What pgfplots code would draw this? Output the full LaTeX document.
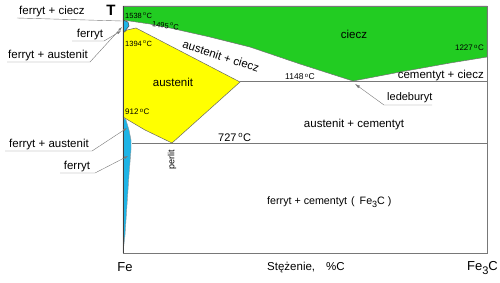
\documentclass[border=0pt]{standalone}
\usepackage{pgfplots}
\pgfplotsset{compat=1.18}
\usepackage{fontspec}
\setmainfont{Liberation Sans}
\usetikzlibrary{arrows.meta}
\definecolor{liq}{RGB}{34,204,34}
\definecolor{aus}{RGB}{255,255,0}
\definecolor{fer}{RGB}{30,180,230}
\definecolor{ln}{RGB}{120,120,120}
\newcommand{\fs}[1]{\fontsize{#1}{#1}\selectfont}
\newcommand{\dc}{\textsuperscript{o}C}
\begin{document}
\begin{tikzpicture}
\begin{axis}[scale only axis, width=500pt, height=282pt,
  xmin=0, xmax=500, ymin=0, ymax=282, y dir=reverse, hide axis, clip=false]
% liquid
\addplot[fill=liq, draw=black!55, line width=0.5pt] coordinates {(123,6)(487,6)(487,57)(450,63)(400,72)(353,81)(300,64)(250,47)(210,37)(170,28)(150,24)(123,20)} -- cycle;
% austenite
\addplot[fill=aus, draw=black!60, line width=0.5pt] coordinates {(123,33)(127,30)(136,28)(240,82)(172,143)(145,130)(123,117)} -- cycle;
% delta ferrite
\addplot[fill=fer, draw=black!70, line width=0.5pt] coordinates {(123,20)(128,22)(129,26)(125,31)(123,32)} -- cycle;
% alpha ferrite
\addplot[fill=fer, draw=black!40, line width=0.4pt] coordinates {(123,117)(126,120)(129,130)(131,140)(131,150)(129,175)(127,205)(125,235)(123,253)} -- cycle;
% frame lines
\addplot[ln, line width=0.6pt] coordinates {(123,6)(487,6)(487,253)(123,253)};
\addplot[black!75, line width=0.6pt] coordinates {(123,6)(123,253)};
\addplot[ln, line width=0.5pt] coordinates {(240,81)(487,81)};
\addplot[ln, line width=0.5pt] coordinates {(132,143)(487,143)};
% leader lines
\addplot[ln, line width=0.4pt] coordinates {(17,18)(122,21)};
\addplot[ln, line width=0.4pt, -{Latex[length=4pt,width=2.5pt]}] coordinates {(72,41)(104,41)(121,31)};
\addplot[ln, line width=0.4pt, -{Latex[length=4pt,width=2.5pt]}] coordinates {(7,62)(90,62)(122,27)};
\addplot[ln, line width=0.4pt, -{Latex[length=4pt,width=2.5pt]}] coordinates {(5,151)(92,151)(127,128)};
\addplot[ln, line width=0.4pt, -{Latex[length=4pt,width=2.5pt]}] coordinates {(60,173)(95,173)(128,156)};
\addplot[ln, line width=0.4pt, -{Latex[length=5pt,width=3pt]}] coordinates {(432,105)(384,105)(355,84)};
% labels
\node[font=\fs{11.5}] at (axis cs:52,12) {ferryt + ciecz};
\node[font=\fs{15}\bfseries] at (axis cs:111,10) {T};
\node[font=\fs{11.5}] at (axis cs:90,35) {ferryt};
\node[font=\fs{11.5}] at (axis cs:48,56) {ferryt + austenit};
\node[font=\fs{11.5}] at (axis cs:49,145) {ferryt + austenit};
\node[font=\fs{11.5}] at (axis cs:77,167) {ferryt};
\node[font=\fs{7.5}, anchor=west, inner sep=0pt] at (axis cs:125,16) {1538\,\dc};
\node[font=\fs{7.5}, anchor=west, inner sep=0pt, rotate=-6] at (axis cs:152,24) {1495\,\dc};
\node[font=\fs{7.5}, anchor=west, inner sep=0pt] at (axis cs:125,44) {1394\,\dc};
\node[font=\fs{8}, anchor=west, inner sep=0pt] at (axis cs:125,112) {912\,\dc};
\node[font=\fs{11.5}] at (axis cs:173,82) {austenit};
\node[font=\fs{11.5}, rotate=-18] at (axis cs:221,56) {austenit + ciecz};
\node[font=\fs{11.5}] at (axis cs:354,34) {ciecz};
\node[font=\fs{8}, anchor=east, inner sep=0pt] at (axis cs:484,48) {1227\,\dc};
\node[font=\fs{8.5}, anchor=west, inner sep=0pt] at (axis cs:285,77) {1148\,\dc};
\node[font=\fs{11.5}, anchor=east, inner sep=0pt] at (axis cs:484,76) {cementyt + ciecz};
\node[font=\fs{11}, anchor=west, inner sep=0pt] at (axis cs:387,98) {ledeburyt};
\node[font=\fs{11.5}] at (axis cs:354,125) {austenit + cementyt};
\node[font=\fs{11}, anchor=west, inner sep=0pt] at (axis cs:218,137) {727\,\dc};
\node[font=\fs{9}, rotate=90] at (axis cs:172,160) {perlit};
\node[font=\fs{10.7}, anchor=west, inner sep=0pt] at (axis cs:267,202) {ferryt + cementyt\hspace{4pt}(\hspace{5pt}Fe\raisebox{-3.5pt}{\fs{9}3}C\hspace{3pt})};
\node[font=\fs{13}] at (axis cs:125,267) {Fe};
\node[font=\fs{11.5}, anchor=west, inner sep=0pt] at (axis cs:267,268) {Stężenie,\hspace{11pt}\%C};
\node[font=\fs{13}, anchor=east, inner sep=0pt] at (axis cs:498,268) {Fe\raisebox{-4pt}{\fs{11}3}C};
\end{axis}
\pgfresetboundingbox
\path (0,0) rectangle (500pt,282pt);
\end{tikzpicture}
\end{document}
